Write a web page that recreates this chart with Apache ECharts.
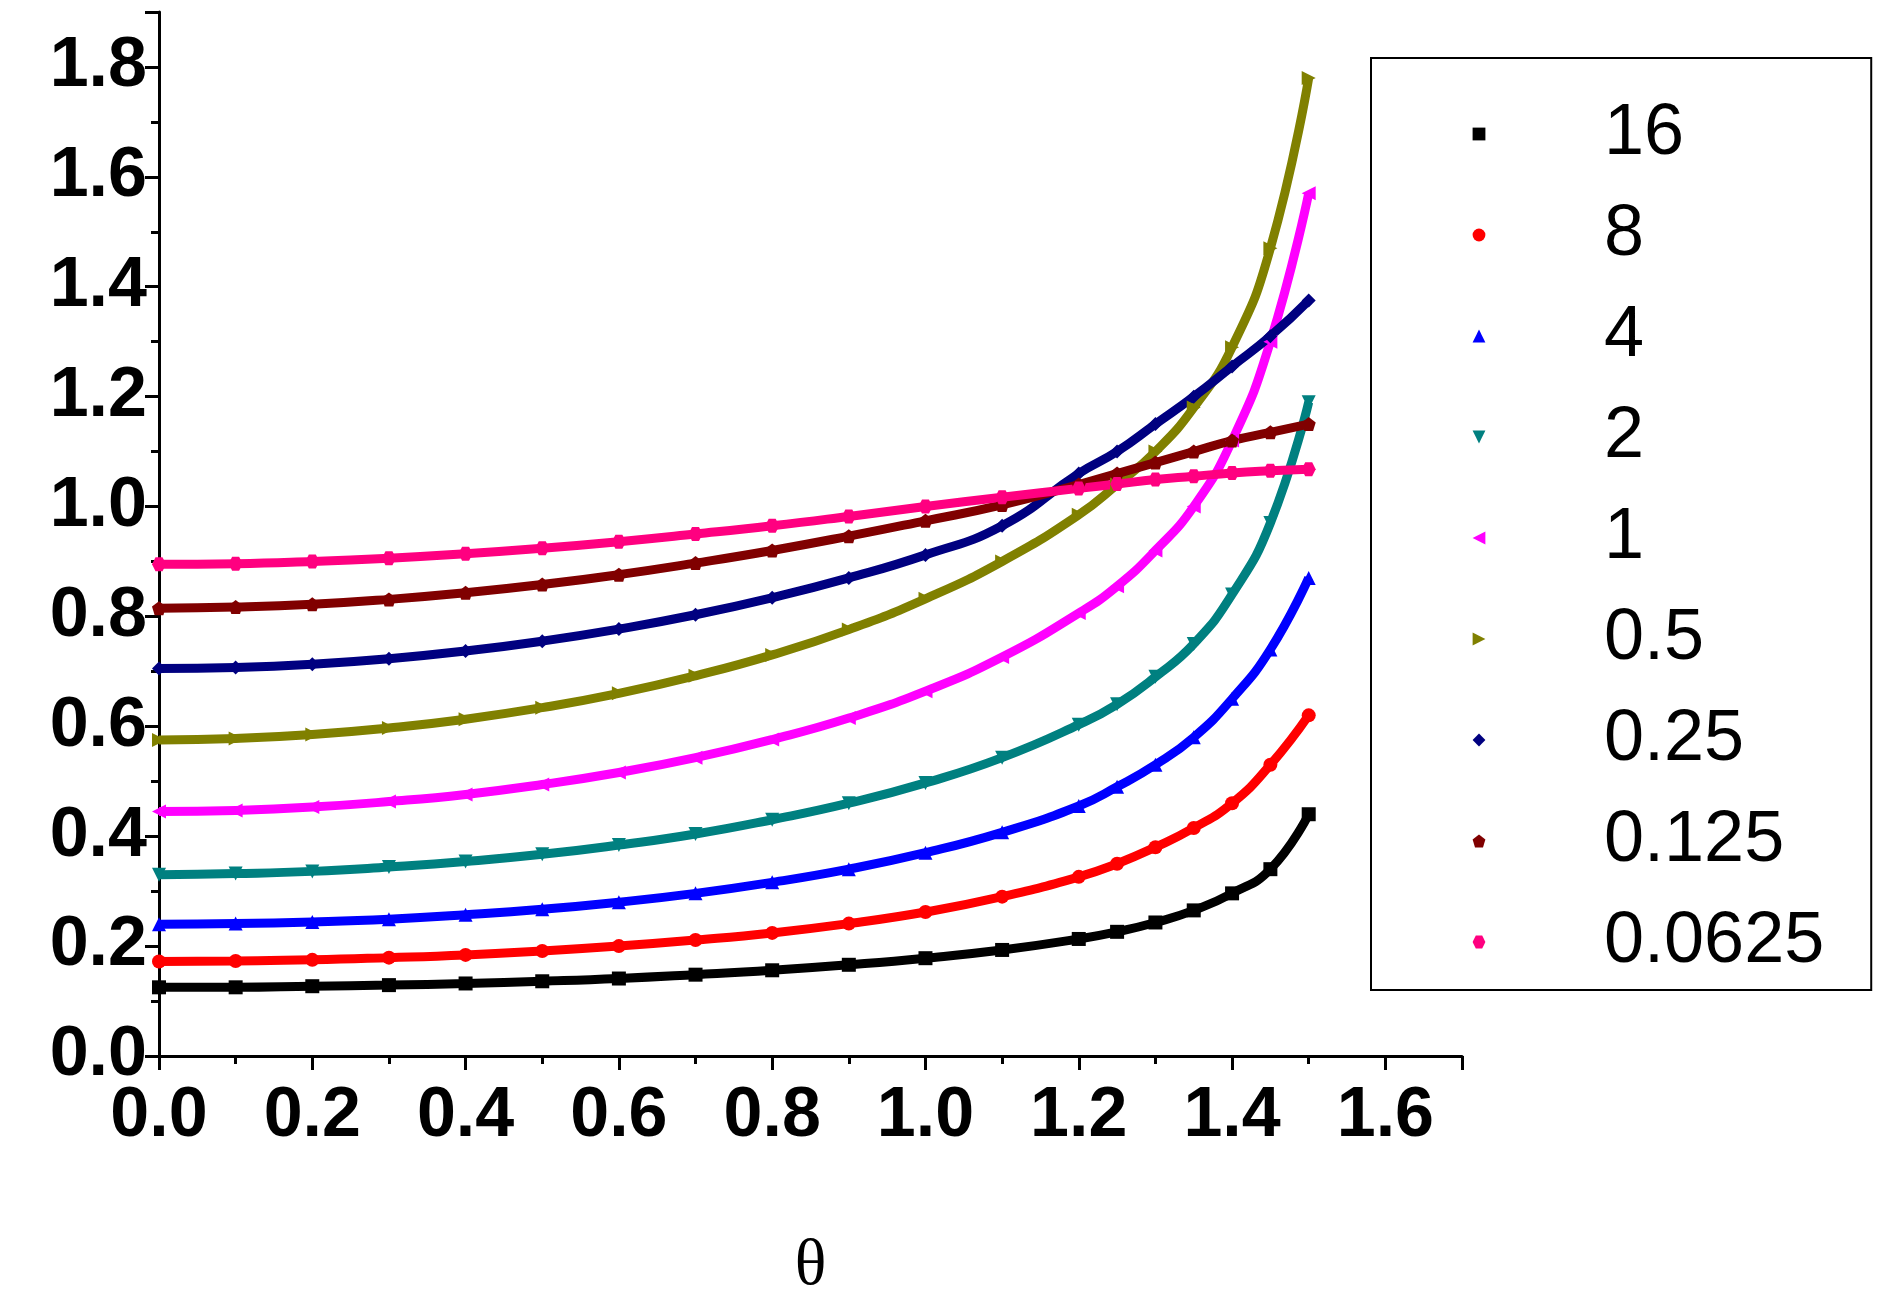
<!DOCTYPE html>
<html>
<head>
<meta charset="utf-8">
<script src="https://cdn.jsdelivr.net/npm/echarts@6/dist/echarts.min.js"></script>
<style>html,body{margin:0;background:#fff}#chart{width:1886px;height:1299px}</style>
</head>
<body>
<div id="chart"></div>
<script>
const theta = [0,0.1,0.2,0.3,0.4,0.5,0.6,0.7,0.8,0.9,1.0,1.1,1.2,1.25,1.3,1.35,1.4,1.45,1.5]
const names = ["16","8","4","2","1","0.5","0.25","0.125","0.0625"]
const v16 = [0.125,0.125,0.127,0.129,0.132,0.136,0.141,0.148,0.156,0.166,0.178,0.193,0.213,0.226,0.243,0.265,0.296,0.34,0.44]
const v8 = [0.172,0.173,0.175,0.179,0.184,0.191,0.2,0.211,0.224,0.241,0.262,0.29,0.326,0.35,0.38,0.415,0.46,0.53,0.62]
const v4 = [0.24,0.241,0.244,0.249,0.257,0.267,0.28,0.296,0.316,0.34,0.37,0.407,0.455,0.49,0.53,0.58,0.65,0.74,0.87]
const v2 = [0.33,0.332,0.336,0.344,0.354,0.367,0.384,0.404,0.43,0.46,0.497,0.543,0.603,0.64,0.69,0.75,0.84,0.97,1.19]
const v1 = [0.445,0.447,0.453,0.463,0.476,0.494,0.516,0.543,0.576,0.615,0.664,0.726,0.806,0.855,0.92,1.0,1.12,1.3,1.57]
const v05 = [0.575,0.578,0.585,0.597,0.613,0.634,0.66,0.692,0.73,0.776,0.832,0.9,0.985,1.04,1.1,1.18,1.29,1.47,1.78]
const v025 = [0.705,0.707,0.713,0.723,0.737,0.755,0.777,0.803,0.834,0.87,0.912,0.965,1.06,1.1,1.15,1.2,1.255,1.31,1.375]
const v0125 = [0.815,0.817,0.822,0.831,0.843,0.858,0.876,0.897,0.92,0.946,0.974,1.003,1.04,1.06,1.08,1.1,1.12,1.135,1.15]
const v00625 = [0.895,0.896,0.9,0.906,0.914,0.924,0.936,0.95,0.965,0.982,1.0,1.017,1.033,1.041,1.049,1.055,1.061,1.065,1.068]
const allValues = [v16,v8,v4,v2,v1,v05,v025,v0125,v00625]

const colors = ["#000000","#ff0000","#0000ff","#008080","#ff00ff","#808000","#000080","#800000","#ff0080"]
const symbols = ["rect","circle","triangle","triangle","triangle","triangle","diamond",
    "path://M0,-1 L0.95,-0.31 L0.59,0.81 L-0.59,0.81 L-0.95,-0.31Z",
    "path://M-1,0 L-0.5,-0.87 L0.5,-0.87 L1,0 L0.5,0.87 L-0.5,0.87Z"]
const rotates = [0,0,0,180,90,-90,0,0,0]

const chart = echarts.init(document.getElementById("chart"))
const axisFont = {fontFamily:"Arial, Liberation Sans", fontWeight:"bold", fontSize:70, color:"#000"}

chart.setOption({
    animation:false,
    grid:{left:159, top:12, right:424, bottom:243, containLabel:false, outerBoundsMode:"none"},
    legend:{
        orient:"vertical", left:1371, top:58, width:500, height:931,
        padding:[40,47,12,100], itemGap:29, itemWidth:16, itemHeight:16,
        borderColor:"#000", borderWidth:2,
        lineStyle:{width:0},
        textStyle:{fontFamily:"Arial, Liberation Sans", fontSize:72, color:"#000", padding:[0,0,0,112]},
        data:names
    },
    xAxis:{
        type:"value", min:0, max:1.7, interval:0.2,
        name:"θ", nameLocation:"middle", nameGap:178,
        nameTextStyle:{fontFamily:"Times New Roman, Liberation Serif", fontSize:66, color:"#000"},
        axisLine:{lineStyle:{color:"#000", width:3}},
        axisTick:{inside:false, length:14, lineStyle:{width:3}},
        minorTick:{show:true, splitNumber:2, length:8, lineStyle:{color:"#000", width:3}},
        splitLine:{show:false},
        axisLabel:Object.assign({margin:26, showMaxLabel:false, formatter:v=>v.toFixed(1)}, axisFont)
    },
    yAxis:{
        type:"value", min:0, max:1.9, interval:0.2,
        axisLine:{lineStyle:{color:"#000", width:3}},
        axisTick:{inside:false, length:14, lineStyle:{width:3}},
        minorTick:{show:true, splitNumber:2, length:8, lineStyle:{color:"#000", width:3}},
        splitLine:{show:false},
        axisLabel:Object.assign({margin:12, showMaxLabel:false, formatter:v=>v.toFixed(1)}, axisFont)
    },
    series:names.map((n,i)=>({
        name:n, type:"line", smooth:true,
        symbol:symbols[i], symbolRotate:rotates[i], symbolSize:14, showAllSymbol:true,
        itemStyle:{color:colors[i]},
        lineStyle:{color:colors[i], width:9},
        data:theta.map((t,j)=>[t, allValues[i][j]])
    }))
})
</script>
</body>
</html>
